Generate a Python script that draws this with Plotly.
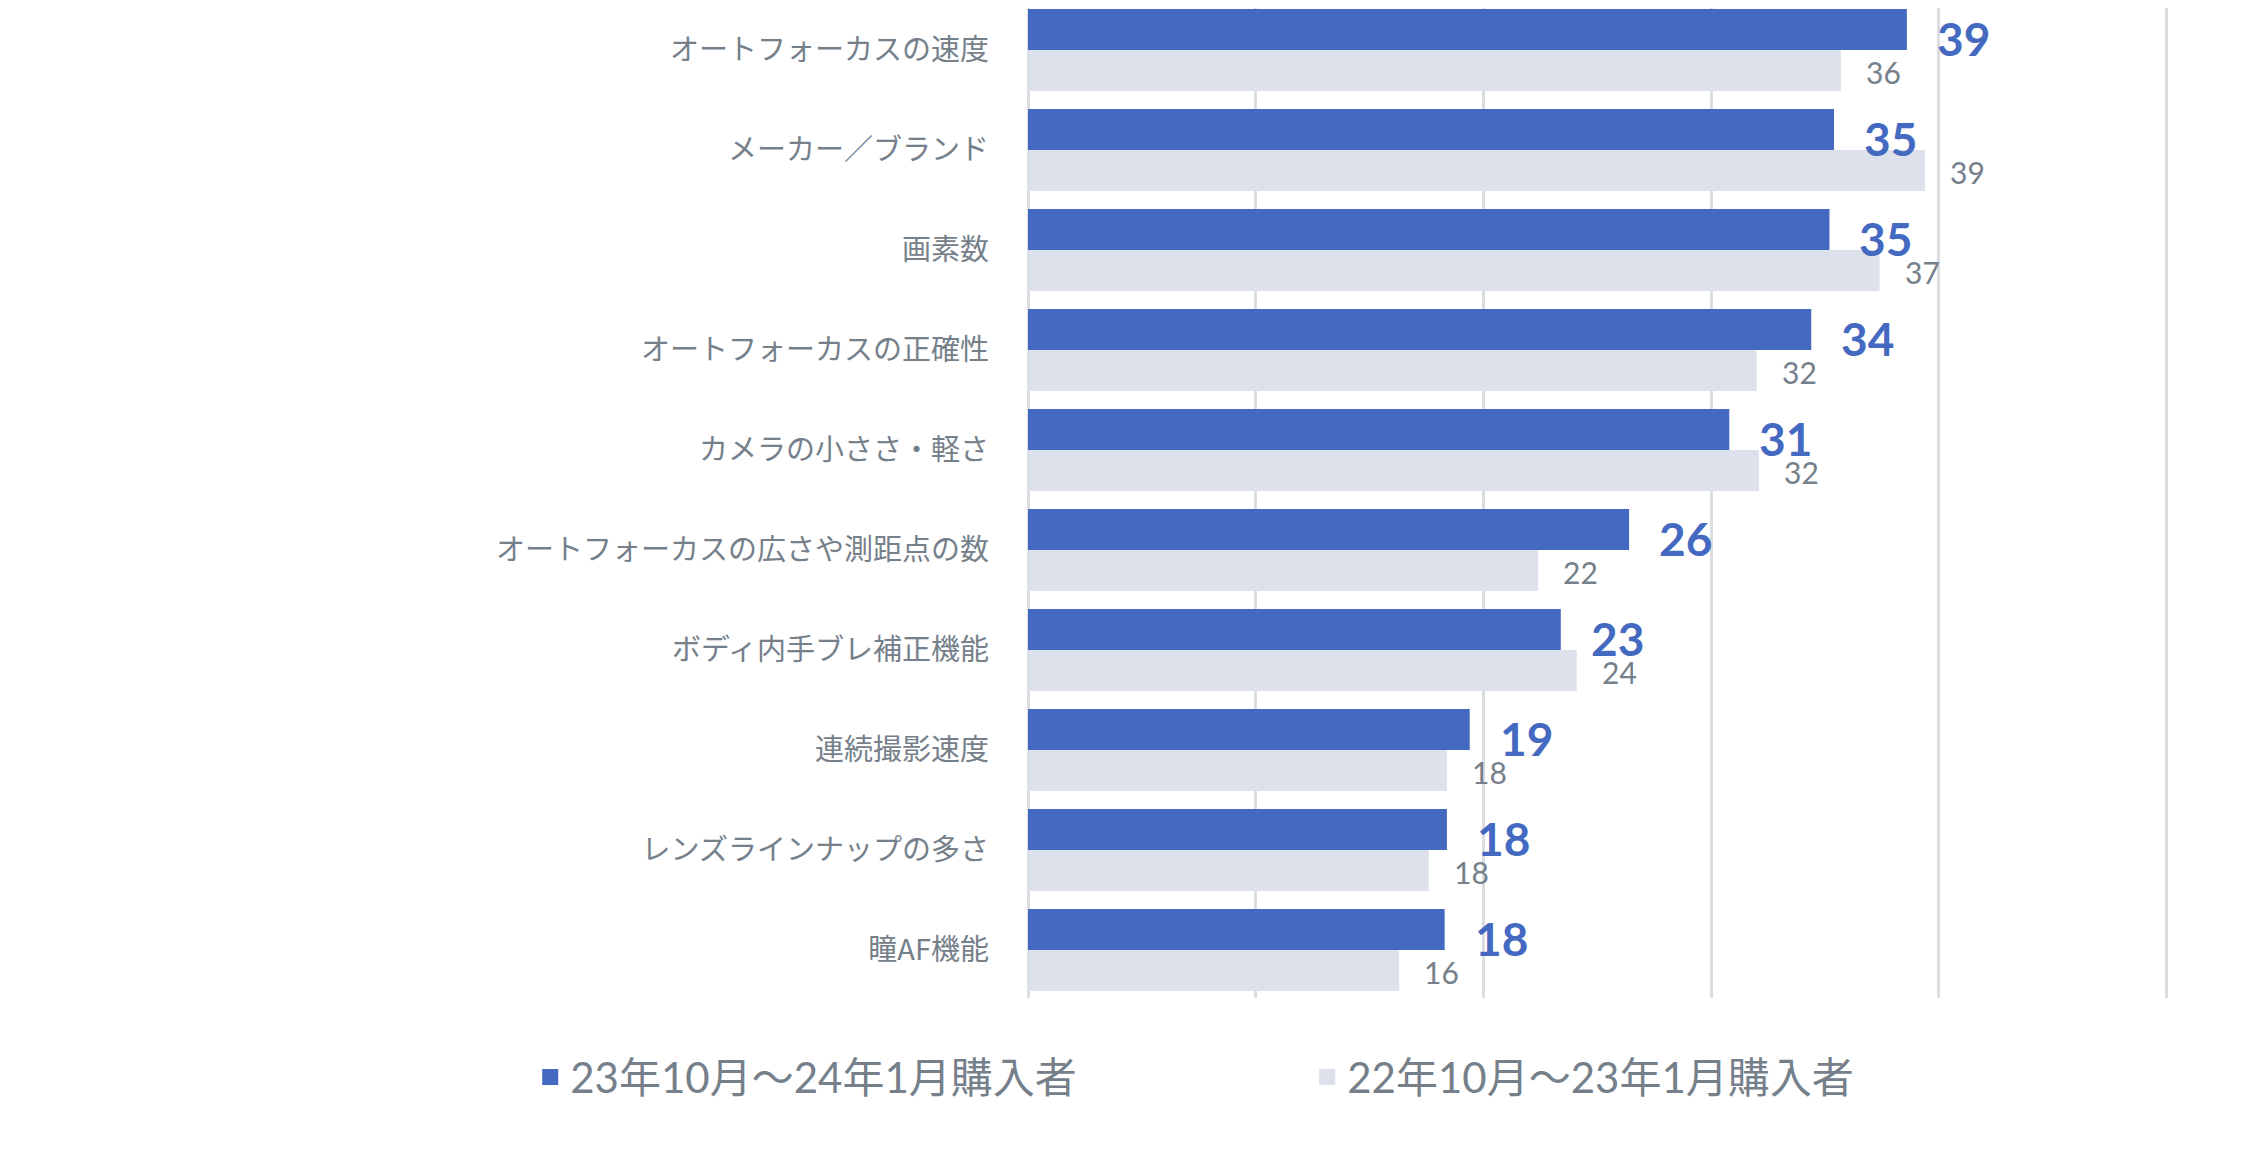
import plotly.graph_objects as go

# 項目（上から順）
categories = [
    "オートフォーカスの速度",
    "メーカー／ブランド",
    "画素数",
    "オートフォーカスの正確性",
    "カメラの小ささ・軽さ",
    "オートフォーカスの広さや測距点の数",
    "ボディ内手ブレ補正機能",
    "連続撮影速度",
    "レンズラインナップの多さ",
    "瞳AF機能",
]

# 23年10月～24年1月購入者 (%)
recent = [38.6, 35.4, 35.2, 34.4, 30.8, 26.4, 23.4, 19.4, 18.4, 18.3]
# 22年10月～23年1月購入者 (%)
previous = [35.7, 39.4, 37.4, 32.0, 32.1, 22.4, 24.1, 18.4, 17.6, 16.3]

series_names = ["23年10月～24年1月購入者", "22年10月～23年1月購入者"]

dark = "#4469C0"
light = "#DCE1EB"
text_gray = "#75808A"
grid_gray = "#DCDDE1"
font_jp = "Lato, Noto Sans CJK JP"

fig = go.Figure()

fig.add_trace(go.Bar(
    y=categories, x=recent, orientation="h",
    marker=dict(color=dark, line=dict(width=0)),
    name=series_names[0], showlegend=False,
))
fig.add_trace(go.Bar(
    y=categories, x=previous, orientation="h",
    marker=dict(color=light, line=dict(width=0)),
    name=series_names[1], showlegend=False,
))

# legend squares
for name, col in zip(series_names, [dark, light]):
    fig.add_trace(go.Scatter(
        x=[None], y=[None], mode="markers", name=name,
        marker=dict(symbol="square", size=16, color=col),
    ))

# value labels
for cat, v in zip(categories, recent):
    fig.add_annotation(
        x=v, y=cat, text=f"{v:.0f}", showarrow=False,
        xanchor="left", xshift=28, yshift=12,
        font=dict(family="Lato", size=46, color=dark, weight="bold"),
    )
for cat, v in zip(categories, previous):
    fig.add_annotation(
        x=v, y=cat, text=f"{v:.0f}", showarrow=False,
        xanchor="left", xshift=23, yshift=-22,
        font=dict(family="Lato", size=30, color=text_gray),
    )

# page body has an 8px margin, so the figure is a bit smaller than the window
fig.update_layout(
    width=2232, height=1134,
    margin=dict(l=1020, r=69, t=0, b=144),
    barmode="group", bargap=0.18, bargroupgap=0,
    plot_bgcolor="white", paper_bgcolor="white",
    font=dict(family=font_jp, color=text_gray),
    legend=dict(
        orientation="h", x=-0.4355, xanchor="left", y=-0.08, yanchor="middle",
        font=dict(size=42, color=text_gray, family=font_jp),
        entrywidth=732, entrywidthmode="pixels",
    ),
)
# range a touch past 50 so the last gridline is drawn
fig.update_xaxes(
    range=[0, 50.2], dtick=10, showticklabels=False,
    showgrid=True, gridcolor=grid_gray, gridwidth=2.5,
    zeroline=True, zerolinecolor=grid_gray, zerolinewidth=2.5,
)
fig.update_yaxes(
    range=[9.48, -0.42], showgrid=False,
    tickfont=dict(size=29, color=text_gray, family="Noto Sans CJK JP"),
    ticklabelstandoff=38, ticks="",
)

fig.write_html("out.html")
